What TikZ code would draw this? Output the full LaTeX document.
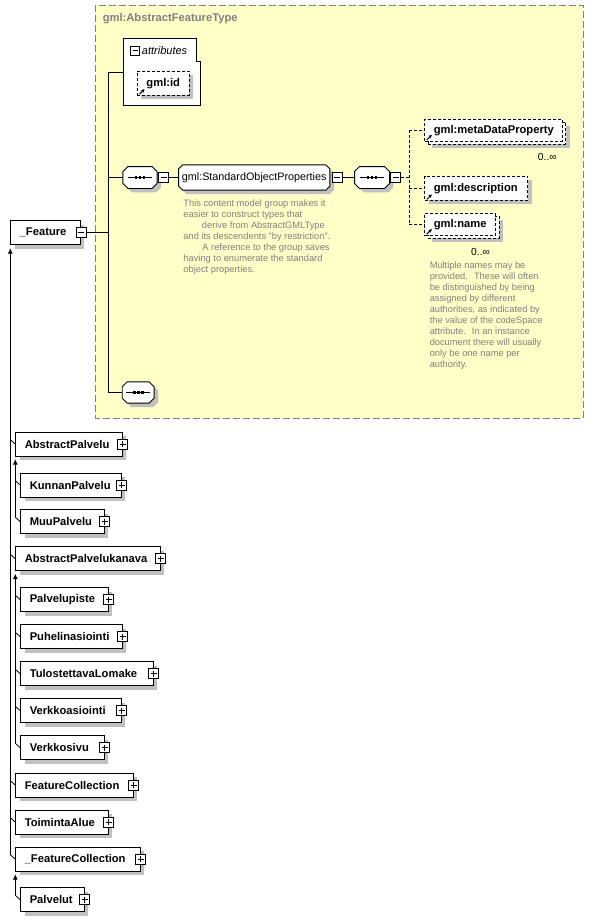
\documentclass[tikz,border=0pt]{standalone}
\usepackage{fontspec}
\setmainfont{Liberation Sans}
\usetikzlibrary{shadows,calc,arrows.meta}

\definecolor{docyellow}{RGB}{255,255,200}
\definecolor{shadowgray}{RGB}{192,192,192}
\definecolor{docgray}{RGB}{128,128,128}

\hyphenpenalty=10000
\exhyphenpenalty=10000

\newcommand{\lbl}{\bfseries\fontsize{11.2}{13}\selectfont}
\newcommand{\doc}{\color{docgray}\fontsize{9.3}{11}\selectfont}

% little glyphs inside the boxes
\newcommand{\refmark}[1]{\draw[line width=1pt,-{Stealth[length=3.5pt,width=3.5pt]}] ([xshift=2.5pt,yshift=1.5pt]#1.south west) -- ++(5pt,5pt);}
\newcommand{\seqmark}[1]{%
  \draw[line width=0.9pt] ($(#1.center)+(-12,0)$) -- ($(#1.center)+(12,0)$);
  \foreach \dx in {-4,0,4}
    \fill ($(#1.center)+(\dx-1.3,-1.3)$) rectangle ($(#1.center)+(\dx+1.3,1.3)$);}
% chamfered outline round a node, with its shadow
\newcommand{\octpath}[2]{([xshift=#2]#1.north west) -- ([xshift=-#2]#1.north east) -- ([yshift=-#2]#1.north east) -- ([yshift=#2]#1.south east) -- ([xshift=-#2]#1.south east) -- ([xshift=#2]#1.south west) -- ([yshift=#2]#1.south west) -- ([yshift=-#2]#1.north west) -- cycle}
\newcommand{\octo}[2]{%
  \fill[shadowgray, transform canvas={xshift=4pt,yshift=-4pt}] \octpath{#1}{#2};
  \filldraw[fill=white] \octpath{#1}{#2};}

\tikzset{
  shadowed/.style={drop shadow={shadow xshift=4pt, shadow yshift=-4pt, fill=shadowgray, opacity=1}},
  elembox/.style={draw, fill=white, anchor=north west, inner xsep=9pt, inner ysep=0pt, minimum height=24pt, align=left, font=\lbl},
  elem/.style={elembox, shadowed, text width=#1},
  refpart/.style={elembox, dash pattern=on 3pt off 2pt, text width=#1},
  refelem/.style={refpart=#1, shadowed},
  seqnode/.style={minimum width=33.4pt, minimum height=21pt, inner sep=0pt},
  groupnode/.style={minimum width=150.3pt, minimum height=24.3pt, inner sep=0pt},
  togicon/.style={draw, fill=white, minimum size=10pt, inner sep=0pt, line width=0.8pt},
  minusicon/.style={togicon, path picture={\draw[line width=0.8pt] ([xshift=2pt]path picture bounding box.west) -- ([xshift=-2pt]path picture bounding box.east);}},
  plusicon/.style={togicon, path picture={\draw[line width=0.8pt] ([xshift=2pt]path picture bounding box.west) -- ([xshift=-2pt]path picture bounding box.east) ([yshift=-2pt]path picture bounding box.north) -- ([yshift=2pt]path picture bounding box.south);}},
  occ/.style={anchor=east, inner sep=0pt, font=\fontsize{10.3}{12}\selectfont},
  doctext/.style={anchor=north west, inner sep=0pt, align=left, font=\doc},
  treetip/.style={{Latex[length=5.5pt,width=5pt]}-},
  refline/.style={dash pattern=on 3pt off 2pt}
}

\begin{document}
\begin{tikzpicture}[x=1pt, y=-1pt, line width=0.9pt]
	\useasboundingbox (0,0) rectangle (594,921);
	\fill[white] (0,0) rectangle (594,921);

	%complex type
	\filldraw[draw=docgray, fill=docyellow, dash pattern=on 7pt off 3pt] (95.7,5.3) rectangle (583,418);
	\node[anchor=west, inner sep=0pt, text=docgray, font=\lbl] (typename) at (102.3,19) {gml:AbstractFeatureType};

	%attributes
	\draw[fill=white] (123.3,38.3) -- (196.7,38.3) -- (196.7,61) -- (200.7,61) -- (200.7,105.3) -- (123.3,105.3) -- cycle;
	\node[minusicon, minimum size=9pt] (attrmin) at (135,50.5) {};
	\node[anchor=west, inner sep=0pt, font=\itshape\fontsize{11}{13}\selectfont] (attrlbl) at (141.5,50.5) {attributes};
	\node[refelem=34pt] (gmlid) at (137,70.7) {gml:id};
	\refmark{gmlid}
	\coordinate (attrs) at (123.3,72);
	\coordinate (trunk) at (108.3,72);

	%sequence
	\node[seqnode] (seq1) at (140,177.5) {};
	\octo{seq1}{5pt}
	\seqmark{seq1}
	\node[minusicon, anchor=west] (seq1min) at ([xshift=1pt]seq1.east) {};
	\node[groupnode] (sop) at (254.2,177.5) {};
	\octo{sop}{4pt}
	\node[inner sep=0pt, font=\fontsize{10.8}{13}\selectfont] (soplbl) at (sop.center) {gml:StandardObjectProperties};
	\node[minusicon, anchor=west] (sopmin) at ([xshift=1.7pt]sop.east) {};
	\node[seqnode, minimum width=34pt] (seq2) at (372,177.5) {};
	\octo{seq2}{5pt}
	\seqmark{seq2}
	\node[minusicon, anchor=west] (seq2min) at ([xshift=1pt]seq2.east) {};
	\coordinate (fork) at (409,177.5);

	%group members
	\node[refelem=119.5pt, minimum height=21.5pt] (mdpback) at (427.8,122) {};
	\node[refpart=119.5pt, minimum height=21.5pt] (mdp) at (424.3,119) {gml:metaDataProperty};
	\refmark{mdp}
	\node[occ] (mdpocc) at ([xshift=-9pt,yshift=-13pt]mdpback.south east) {0..∞};
	\node[refelem=85pt, minimum height=24.3pt] (desc) at (424.3,175.7) {gml:description};
	\refmark{desc}
	\node[refelem=52.7pt, minimum height=22pt] (nameback) at (427.8,215.7) {};
	\node[refpart=52.7pt, minimum height=22pt] (name) at (424.3,212.7) {gml:name};
	\refmark{name}
	\node[occ] (nameocc) at ([xshift=-9pt,yshift=-13pt]nameback.south east) {0..∞};

	%documentation
	\node[doctext] (sopdoc) at (183,199.3) {This content model group makes it\\easier to construct types that\\\hspace*{18.5pt}derive from AbstractGMLType\\and its descendents "by restriction".\\\hspace*{19pt}A reference to the group saves\\having to enumerate the standard\\object properties.};
	\node[doctext] (namedoc) at (429.3,261.6) {Multiple names may be\\provided.~ These will often\\be distinguished by being\\assigned by different\\authorities, as indicated by\\the value of the codeSpace\\attribute.~ In an instance\\document there will usually\\only be one name per\\authority.};

	%empty sequence
	\node[seqnode, minimum width=31pt, minimum height=20.4pt] (seq3) at (138.2,392.5) {};
	\octo{seq3}{5pt}
	\seqmark{seq3}

	%derived types
	\node[elem=51.7pt] (feat) at (10.3,220.3) {\_Feature};
	\node[minusicon] (featmin) at (feat.east) {};
	\node[elem=88.4pt] (ap) at (15.3,431.7) {AbstractPalvelu};
	\node[elem=82.4pt] (kp) at (20.3,472.7) {KunnanPalvelu};
	\node[elem=65.4pt] (mp) at (20.3,509.3) {MuuPalvelu};
	\node[elem=126.4pt] (apk) at (15.3,546.3) {AbstractPalvelukanava};
	\node[elem=69.4pt] (pp) at (20.3,587.3) {Palvelupiste};
	\node[elem=83.4pt] (pa) at (20.3,624.3) {Puhelinasiointi};
	\node[elem=114.4pt] (tl) at (20.3,661.3) {TulostettavaLomake};
	\node[elem=82.4pt] (va) at (20.3,698.3) {Verkkoasiointi};
	\node[elem=65.4pt] (vs) at (20.3,735.3) {Verkkosivu};
	\node[elem=99.4pt] (fc) at (15.3,772.7) {FeatureCollection};
	\node[elem=74.4pt] (ta) at (15.3,809.7) {ToimintaAlue};
	\node[elem=106.4pt] (ufc) at (15.3,846.7) {\_FeatureCollection};
	\node[elem=45.4pt] (pv) at (20.3,887.3) {Palvelut};
	\foreach \n in {ap,kp,mp,apk,pp,pa,tl,va,vs,fc,ta,ufc,pv}
		\node[plusicon] (\n plus) at (\n.east) {};

	%content lines
	\draw (attrs) -- (trunk) -- (trunk |- seq3.west) -- (seq3.west);
	\draw (featmin.east) -- (featmin.east -| trunk);
	\draw (trunk |- seq1.west) -- (seq1.west);
	\draw (seq1min.east) -- (sop.west);
	\draw (sopmin.east) -- (seq2.west);
	\draw[refline] (seq2min.east) -- (fork);
	\draw[refline] (fork |- mdp.west) -- (fork |- name.west);
	\foreach \n in {mdp,desc,name}
		\draw[refline] (fork |- \n.west) -- (\n.west);

	%derivation tree
	\draw[treetip] ([yshift=-3pt]feat.south west) -- ($(feat.south west |- ufc.west)+(0,-4.5)$);
	\draw[treetip] ([yshift=-2.5pt]ap.south west) -- ($(ap.south west |- mp.west)+(0,-4.5)$);
	\draw[treetip] ([yshift=-2.5pt]apk.south west) -- ($(apk.south west |- vs.west)+(0,-4.5)$);
	\draw[treetip] ([yshift=-2.5pt]ufc.south west) -- ($(ufc.south west |- pv.west)+(0,-4.5)$);
	\foreach \c/\p in {ap/feat,apk/feat,fc/feat,ta/feat,ufc/feat,kp/ap,mp/ap,pp/apk,pa/apk,tl/apk,va/apk,vs/apk,pv/ufc}
		\draw[line width=0.8pt] ($(\p.south west |- \c.west)+(0,-4.5)$) -- (\c.west);
\end{tikzpicture}
\end{document}
